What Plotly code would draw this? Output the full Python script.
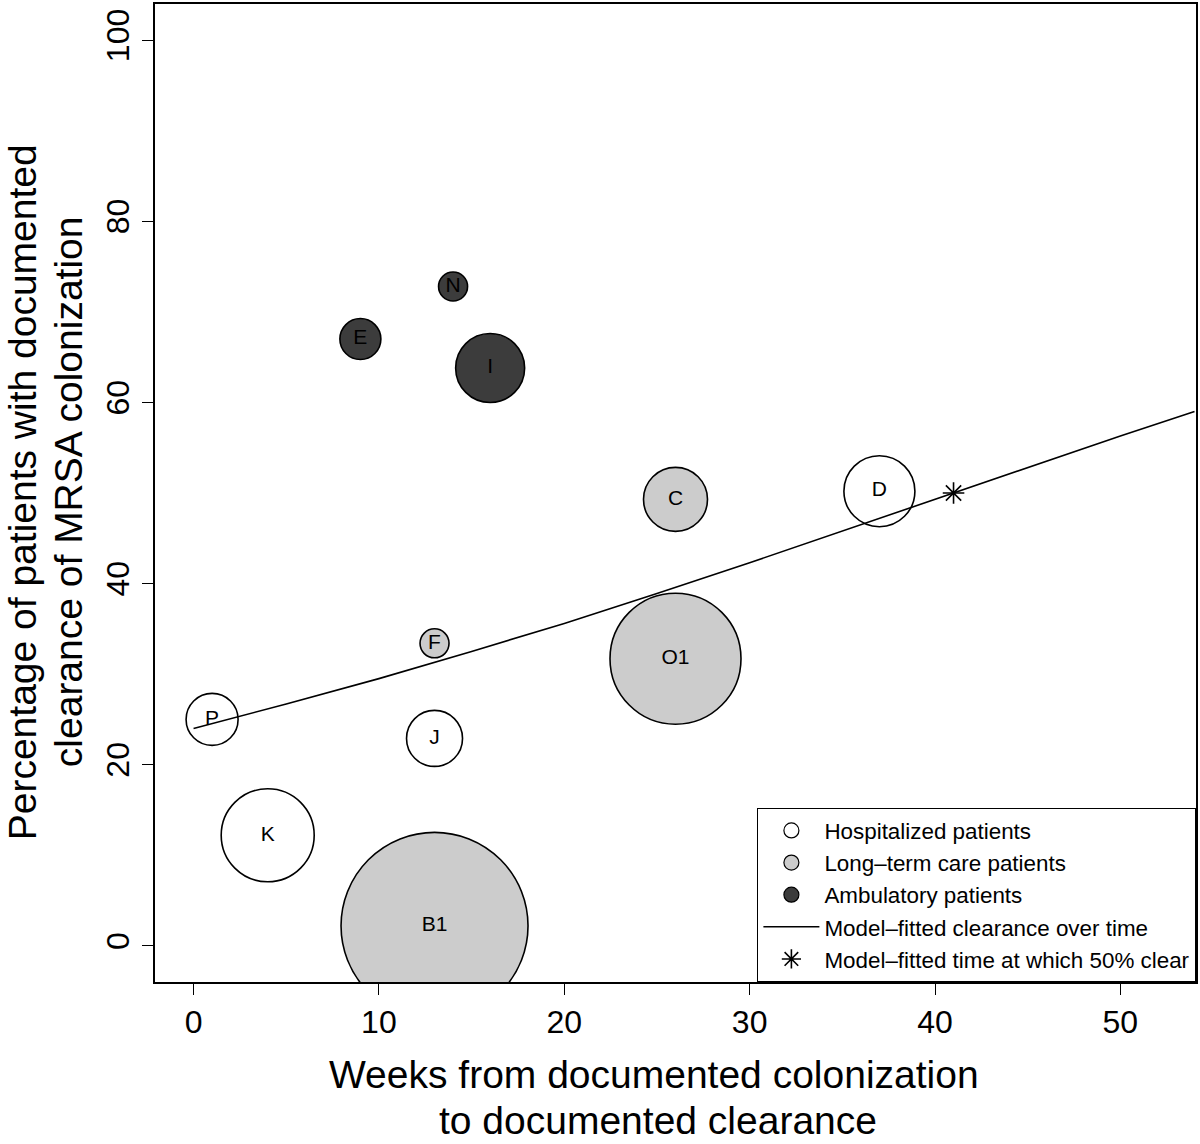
import plotly.graph_objects as go

# ---- data ----
hosp_labels = ["P", "K", "J", "D"]
hosp_weeks = [1, 4, 13, 37]
hosp_pct = [25.0, 12.2, 22.9, 50.2]
hosp_size = [53, 94, 57, 72]

ltc_labels = ["B1", "F", "C", "O1"]
ltc_weeks = [13, 13, 26, 26]
ltc_pct = [2.2, 33.4, 49.3, 31.7]
ltc_size = [188, 30, 65, 132]

amb_labels = ["E", "N", "I"]
amb_weeks = [9, 14, 16]
amb_pct = [67.0, 72.8, 63.8]
amb_size = [42, 30, 70]

fit_weeks = [0, 5, 10, 15, 20, 25, 30, 35, 40, 45, 50, 54]
fit_pct = [24.0, 26.7, 29.5, 32.5, 35.6, 38.9, 42.3, 45.8, 49.3, 52.8, 56.3, 59.0]

half_weeks = [41]
half_pct = [50]

x_ticks = [0, 10, 20, 30, 40, 50]
y_ticks = [0, 20, 40, 60, 80, 100]

FONT = "Liberation Sans, Arial, Helvetica, sans-serif"
WHITE = "#ffffff"
GRAY = "#cccccc"
DARK = "#3c3c3c"

fig = go.Figure()


def bubbles(x, y, s, labels, color):
    fig.add_trace(go.Scatter(
        x=x, y=y, mode="markers+text", text=labels,
        textposition="middle center",
        textfont=dict(family=FONT, size=21, color="black"),
        marker=dict(size=[v - 1 for v in s], sizemode="diameter", color=color,
                    opacity=1, line=dict(color="black", width=1.6)),
        showlegend=False, hoverinfo="skip"))


bubbles(hosp_weeks, hosp_pct, hosp_size, hosp_labels, WHITE)
bubbles(ltc_weeks, ltc_pct, ltc_size, ltc_labels, GRAY)
bubbles(amb_weeks, amb_pct, amb_size, amb_labels, DARK)

fig.add_trace(go.Scatter(x=fit_weeks, y=fit_pct, mode="lines",
                         line=dict(color="black", width=1.6),
                         showlegend=False, hoverinfo="skip"))
fig.add_trace(go.Scatter(x=half_weeks, y=half_pct, mode="markers",
                         marker=dict(symbol="asterisk-open", size=18, color="black",
                                     line=dict(color="black", width=1.6)),
                         showlegend=False, hoverinfo="skip"))

# legend entries
for name, col in [("Hospitalized patients", WHITE),
                  ("Long\u2013term care patients", GRAY),
                  ("Ambulatory patients", DARK)]:
    fig.add_trace(go.Scatter(x=[None], y=[None], mode="markers", name=name,
                             marker=dict(size=15, color=col,
                                         line=dict(color="black", width=1.2))))
fig.add_trace(go.Scatter(x=[None], y=[None], mode="lines",
                         name="Model\u2013fitted clearance over time",
                         line=dict(color="black", width=1.6)))
fig.add_trace(go.Scatter(x=[None], y=[None], mode="markers",
                         name="Model\u2013fitted time at which 50% clear",
                         marker=dict(symbol="asterisk-open", size=16, color="black",
                                     line=dict(color="black", width=1.6))))

axis_common = dict(showline=True, linecolor="black", linewidth=1.8, mirror=True,
                   ticks="outside", ticklen=11, tickwidth=1.4, tickcolor="black",
                   showgrid=False, zeroline=False,
                   tickfont=dict(family=FONT, size=32, color="black"))

fig.update_xaxes(range=[-2.08, 54.08], tickvals=x_ticks,
                 ticktext=[str(v) for v in x_ticks], **axis_common)
fig.update_yaxes(range=[-4, 104], tickvals=y_ticks,
                 ticktext=[str(v) for v in y_ticks], tickangle=-90, **axis_common)

PLOT_H = 980.0
PLOT_W = 1043.0


def px_x(p):
    return (p - 155) / PLOT_W


def px_y(p):
    return (982 - p) / PLOT_H


title_font = dict(family=FONT, size=39, color="black")
fig.add_annotation(xref="paper", yref="paper", x=px_x(655), y=px_y(1075),
                   text="Weeks from documented colonization",
                   showarrow=False, xanchor="center", yanchor="middle", font=title_font)
fig.add_annotation(xref="paper", yref="paper", x=px_x(659), y=px_y(1121),
                   text="to documented clearance",
                   showarrow=False, xanchor="center", yanchor="middle", font=title_font)
fig.add_annotation(xref="paper", yref="paper", x=px_x(22), y=px_y(491),
                   text="Percentage of patients with documented",
                   showarrow=False, xanchor="center", yanchor="middle", textangle=-90,
                   font=title_font)
fig.add_annotation(xref="paper", yref="paper", x=px_x(68), y=px_y(491),
                   text="clearance of MRSA colonization",
                   showarrow=False, xanchor="center", yanchor="middle", textangle=-90,
                   font=title_font)

fig.update_layout(
    width=1200, height=1144,
    margin=dict(l=155, r=2, t=2, b=162),
    plot_bgcolor="white", paper_bgcolor="white",
    font=dict(family=FONT, color="black"),
    legend=dict(x=1, y=0, xanchor="right", yanchor="bottom",
                bgcolor="white", bordercolor="black", borderwidth=1.4,
                font=dict(family=FONT, size=22.4, color="black"),
                itemwidth=56, tracegroupgap=0),
)

fig.write_html("out.html", config={"displayModeBar": False},
               post_script="document.body.style.margin='0';document.body.style.padding='0';")
